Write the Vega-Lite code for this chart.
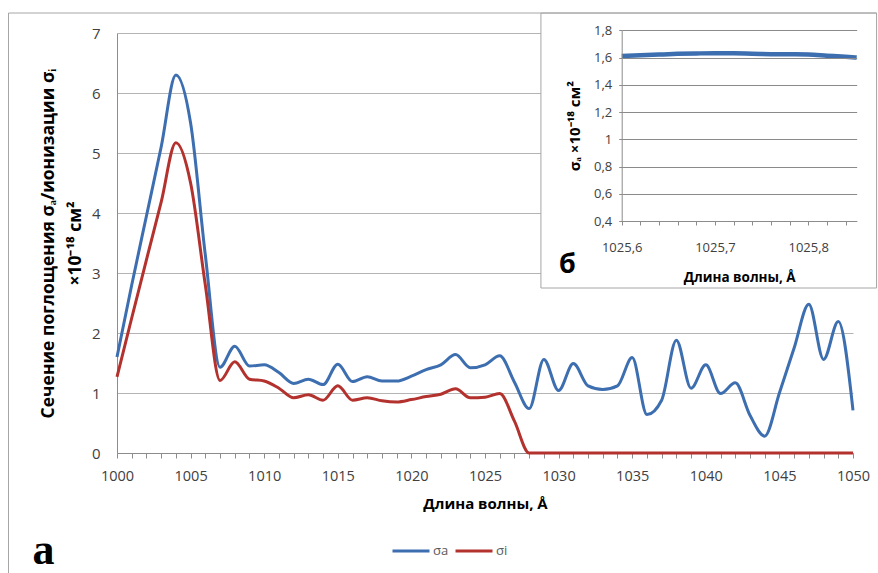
{
  "$schema": "https://vega.github.io/schema/vega-lite/v6.json",
  "padding": {"left": 8, "top": 12, "right": 0, "bottom": 0},
  "background": "white",
  "width": 736,
  "height": 420,
  "config": {
    "font": "Open Sans",
    "view": {"stroke": null},
    "axis": {"labelFont": "Open Sans", "titleFont": "Open Sans", "labelColor": "#404040", "titleColor": "#000000"},
    "legend": {"labelFont": "Open Sans"}
  },
  "resolve": {"scale": {"x": "independent", "y": "independent"}, "axis": {"x": "independent", "y": "independent"}},
  "layer": [
    {
      "layer": [
        {
          "data": {"values": [
            {"w": 1000, "v": 1.6, "s": "σa"}, {"w": 1001, "v": 2.8, "s": "σa"}, {"w": 1002, "v": 3.95, "s": "σa"}, {"w": 1003, "v": 5.1, "s": "σa"}, {"w": 1004, "v": 6.3, "s": "σa"},
            {"w": 1005, "v": 5.5, "s": "σa"}, {"w": 1006, "v": 3.3, "s": "σa"}, {"w": 1007, "v": 1.43, "s": "σa"}, {"w": 1008, "v": 1.78, "s": "σa"}, {"w": 1009, "v": 1.45, "s": "σa"},
            {"w": 1010, "v": 1.47, "s": "σa"}, {"w": 1011, "v": 1.34, "s": "σa"}, {"w": 1012, "v": 1.16, "s": "σa"}, {"w": 1013, "v": 1.23, "s": "σa"}, {"w": 1014, "v": 1.14, "s": "σa"},
            {"w": 1015, "v": 1.48, "s": "σa"}, {"w": 1016, "v": 1.19, "s": "σa"}, {"w": 1017, "v": 1.27, "s": "σa"}, {"w": 1018, "v": 1.2, "s": "σa"}, {"w": 1019, "v": 1.2, "s": "σa"},
            {"w": 1020, "v": 1.28, "s": "σa"}, {"w": 1021, "v": 1.39, "s": "σa"}, {"w": 1022, "v": 1.47, "s": "σa"}, {"w": 1023, "v": 1.64, "s": "σa"}, {"w": 1024, "v": 1.42, "s": "σa"},
            {"w": 1025, "v": 1.47, "s": "σa"}, {"w": 1026, "v": 1.62, "s": "σa"}, {"w": 1027, "v": 1.18, "s": "σa"}, {"w": 1028, "v": 0.74, "s": "σa"}, {"w": 1029, "v": 1.56, "s": "σa"},
            {"w": 1030, "v": 1.04, "s": "σa"}, {"w": 1031, "v": 1.49, "s": "σa"}, {"w": 1032, "v": 1.12, "s": "σa"}, {"w": 1033, "v": 1.06, "s": "σa"}, {"w": 1034, "v": 1.12, "s": "σa"},
            {"w": 1035, "v": 1.59, "s": "σa"}, {"w": 1036, "v": 0.64, "s": "σa"}, {"w": 1037, "v": 0.88, "s": "σa"}, {"w": 1038, "v": 1.88, "s": "σa"}, {"w": 1039, "v": 1.08, "s": "σa"},
            {"w": 1040, "v": 1.47, "s": "σa"}, {"w": 1041, "v": 0.99, "s": "σa"}, {"w": 1042, "v": 1.17, "s": "σa"}, {"w": 1043, "v": 0.63, "s": "σa"}, {"w": 1044, "v": 0.28, "s": "σa"},
            {"w": 1045, "v": 1.0, "s": "σa"}, {"w": 1046, "v": 1.75, "s": "σa"}, {"w": 1047, "v": 2.48, "s": "σa"}, {"w": 1048, "v": 1.56, "s": "σa"}, {"w": 1049, "v": 2.19, "s": "σa"},
            {"w": 1050, "v": 0.71, "s": "σa"},
            {"w": 1000, "v": 1.27, "s": "σi"}, {"w": 1001, "v": 2.25, "s": "σi"}, {"w": 1002, "v": 3.22, "s": "σi"}, {"w": 1003, "v": 4.18, "s": "σi"}, {"w": 1004, "v": 5.17, "s": "σi"},
            {"w": 1005, "v": 4.5, "s": "σi"}, {"w": 1006, "v": 2.8, "s": "σi"}, {"w": 1007, "v": 1.21, "s": "σi"}, {"w": 1008, "v": 1.52, "s": "σi"}, {"w": 1009, "v": 1.23, "s": "σi"},
            {"w": 1010, "v": 1.2, "s": "σi"}, {"w": 1011, "v": 1.08, "s": "σi"}, {"w": 1012, "v": 0.92, "s": "σi"}, {"w": 1013, "v": 0.97, "s": "σi"}, {"w": 1014, "v": 0.88, "s": "σi"},
            {"w": 1015, "v": 1.12, "s": "σi"}, {"w": 1016, "v": 0.88, "s": "σi"}, {"w": 1017, "v": 0.92, "s": "σi"}, {"w": 1018, "v": 0.87, "s": "σi"}, {"w": 1019, "v": 0.85, "s": "σi"},
            {"w": 1020, "v": 0.89, "s": "σi"}, {"w": 1021, "v": 0.94, "s": "σi"}, {"w": 1022, "v": 0.98, "s": "σi"}, {"w": 1023, "v": 1.07, "s": "σi"}, {"w": 1024, "v": 0.92, "s": "σi"},
            {"w": 1025, "v": 0.93, "s": "σi"}, {"w": 1026, "v": 0.99, "s": "σi"}, {"w": 1027, "v": 0.53, "s": "σi"}, {"w": 1028, "v": 0, "s": "σi"}, {"w": 1029, "v": 0, "s": "σi"},
            {"w": 1030, "v": 0, "s": "σi"}, {"w": 1031, "v": 0, "s": "σi"}, {"w": 1032, "v": 0, "s": "σi"}, {"w": 1033, "v": 0, "s": "σi"}, {"w": 1034, "v": 0, "s": "σi"},
            {"w": 1035, "v": 0, "s": "σi"}, {"w": 1036, "v": 0, "s": "σi"}, {"w": 1037, "v": 0, "s": "σi"}, {"w": 1038, "v": 0, "s": "σi"}, {"w": 1039, "v": 0, "s": "σi"},
            {"w": 1040, "v": 0, "s": "σi"}, {"w": 1041, "v": 0, "s": "σi"}, {"w": 1042, "v": 0, "s": "σi"}, {"w": 1043, "v": 0, "s": "σi"}, {"w": 1044, "v": 0, "s": "σi"},
            {"w": 1045, "v": 0, "s": "σi"}, {"w": 1046, "v": 0, "s": "σi"}, {"w": 1047, "v": 0, "s": "σi"}, {"w": 1048, "v": 0, "s": "σi"}, {"w": 1049, "v": 0, "s": "σi"},
            {"w": 1050, "v": 0, "s": "σi"}
          ]},
          "mark": {"type": "line", "interpolate": "monotone", "strokeWidth": 3},
          "encoding": {
            "x": {
              "field": "w", "type": "quantitative",
              "scale": {"domain": [1000, 1050], "nice": false, "zero": false},
              "axis": {
                "orient": "bottom",
                "title": "Длина волны, Å", "titleFontSize": 15, "titleFontWeight": "bold", "titlePadding": 14,
                "tickCount": 50, "format": "d", "labelExpr": "datum.value % 5 === 0 ? datum.label : ''",
                "labelOverlap": false, "labelFlush": false, "labelFontSize": 14.5, "labelPadding": 11,
                "grid": false, "domainColor": "#8c8c8c", "tickColor": "#8c8c8c", "tickSize": 5
              }
            },
            "y": {
              "field": "v", "type": "quantitative",
              "scale": {"domain": [0, 7], "nice": false},
              "axis": {
                "orient": "left",
                "title": ["Сечение поглощения σₐ/ионизации σᵢ", "×10⁻¹⁸ см²"],
                "titleFontSize": 17.5, "titleFontWeight": "bold", "titleLineHeight": 27, "titlePadding": 7,
                "tickCount": 7, "labelFontSize": 15, "labelPadding": 17, "ticks": false,
                "grid": true, "gridColor": "#b4b4b4", "domainColor": "#8c8c8c"
              }
            },
            "color": {
              "field": "s", "type": "nominal",
              "scale": {"domain": ["σa", "σi"], "range": ["#3c6eb0", "#b3322e"]},
              "legend": {
                "title": null, "orient": "none", "direction": "horizontal", "legendX": 274, "legendY": 498,
                "symbolType": "stroke", "symbolStrokeWidth": 3, "symbolSize": 1369,
                "labelFontSize": 13, "labelColor": "#595959", "labelOffset": 2, "columnPadding": 0
              }
            }
          }
        },
        {
          "data": {"values": [{}]},
          "mark": {"type": "rect", "fill": "white", "stroke": "#a6a6a6", "strokeWidth": 1},
          "encoding": {"x": {"datum": 1028.8}, "x2": {"datum": 1051.6}, "y": {"datum": 7.333}, "y2": {"datum": 2.75}}
        },
        {
          "data": {"values": [{}]},
          "mark": {"type": "rule", "color": "#a6a6a6", "strokeWidth": 1},
          "encoding": {"x": {"datum": 992.63}, "y": {"datum": 7.333}, "y2": {"datum": -2.0}}
        },
        {
          "data": {"values": [{}]},
          "mark": {"type": "rule", "color": "#a6a6a6", "strokeWidth": 1},
          "encoding": {"x": {"datum": 992.63}, "x2": {"datum": 1051.6}, "y": {"datum": 7.333}}
        },
        {
          "data": {"values": [{}]},
          "mark": {"type": "text", "text": "а", "font": "Liberation Sans Narrow", "fontSize": 44, "fontWeight": "bold", "align": "center", "baseline": "alphabetic", "color": "#000000"},
          "encoding": {"x": {"datum": 995.0}, "y": {"datum": -1.85}}
        }
      ]
    },
    {
      "layer": [
        {
          "data": {"values": [
            {"w": 1025.6, "v": 1.612}, {"w": 1025.62, "v": 1.617}, {"w": 1025.64, "v": 1.622}, {"w": 1025.66, "v": 1.627},
            {"w": 1025.68, "v": 1.63}, {"w": 1025.7, "v": 1.632}, {"w": 1025.72, "v": 1.631}, {"w": 1025.74, "v": 1.628},
            {"w": 1025.76, "v": 1.625}, {"w": 1025.78, "v": 1.624}, {"w": 1025.8, "v": 1.623}, {"w": 1025.82, "v": 1.614},
            {"w": 1025.84, "v": 1.605}, {"w": 1025.852, "v": 1.6}
          ]},
          "mark": {"type": "line", "interpolate": "monotone", "strokeWidth": 4.5, "color": "#3c6eb0"},
          "encoding": {
            "x": {
              "field": "w", "type": "quantitative",
              "scale": {"domain": [1025.6, 1025.852], "nice": false, "zero": false, "range": [504.7, 739.7]},
              "axis": {
                "orient": "bottom", "offset": -232, "zindex": 1,
                "title": "Длина волны, Å", "titleFontSize": 13.5, "titleFontWeight": "bold", "titlePadding": 16,
                "tickCount": 12, "labelExpr": "abs(datum.value * 10 - round(datum.value * 10)) < 0.001 ? replace(format(datum.value, '.1f'), '.', ',') : ''",
                "labelOverlap": false, "labelFlush": false, "labelFontSize": 13, "labelPadding": 16,
                "grid": false, "domainColor": "#8c8c8c", "tickColor": "#8c8c8c", "tickSize": 4
              }
            },
            "y": {
              "field": "v", "type": "quantitative",
              "scale": {"domain": [0.4, 1.8], "nice": false, "zero": false, "range": [188, -2.7]},
              "axis": {
                "orient": "left", "offset": -504.7, "zindex": 1,
                "title": "σₐ ×10⁻¹⁸ см²", "titleFontSize": 15, "titleFontWeight": "bold", "titlePadding": 11,
                "tickCount": 7, "labelExpr": "replace(format(datum.value, '.2~f'), '.', ',')",
                "labelFontSize": 13, "labelPadding": 7, "tickSize": 3,
                "grid": true, "gridColor": "#8a8a8a", "domainColor": "#8c8c8c", "tickColor": "#8c8c8c"
              }
            }
          }
        },
        {
          "data": {"values": [{}]},
          "mark": {"type": "text", "text": "б", "fontSize": 27, "fontWeight": "bold", "align": "center", "baseline": "alphabetic", "color": "#000000"},
          "encoding": {"x": {"datum": 1025.5418}, "y": {"datum": 0.02}}
        }
      ]
    }
  ]
}
